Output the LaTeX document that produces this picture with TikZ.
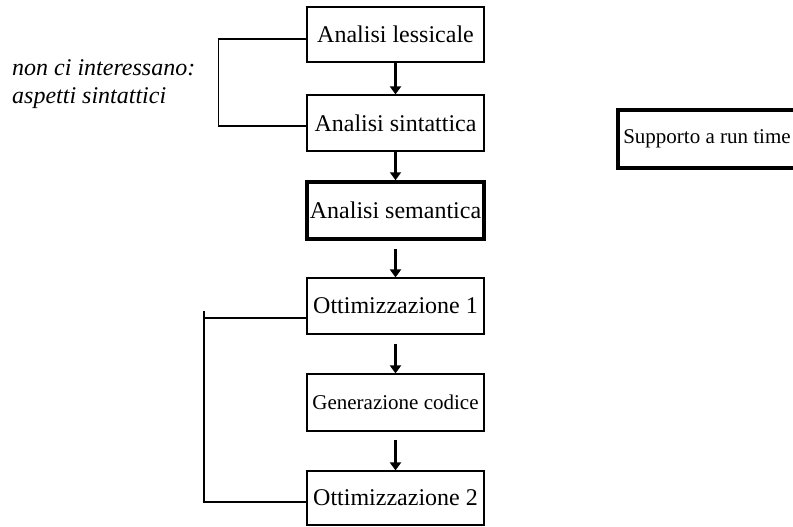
\documentclass[tikz,border=0pt]{standalone}
\usepackage{fontspec}
\setmainfont{Liberation Serif}
\usetikzlibrary{arrows.meta}
\begin{document}
\begin{tikzpicture}[x=1pt,y=-1pt,
  stagebox/.style={draw, line width=1.2pt, minimum width=177pt, inner sep=0pt, font=\fontsize{24}{28}\selectfont},
  thickbox/.style={stagebox, line width=3.5pt},
  smalltext/.style={font=\fontsize{21}{25}\selectfont},
  flow/.style={line width=2.6pt, -{Triangle[width=11pt,length=8pt]}},
  bracket/.style={line width=1.2pt}]
\useasboundingbox (0,0) rectangle (793,527);
\node[stagebox, minimum height=55pt] (b1) at (395.5,34.5) {Analisi lessicale};
\node[stagebox, minimum height=56pt] (b2) at (395.5,123) {Analisi sintattica};
\node[thickbox, minimum height=57pt] (b3) at (395.5,210.5) {Analisi semantica};
\node[stagebox, minimum height=56pt] (b4) at (395.5,306) {Ottimizzazione 1};
\node[stagebox, smalltext, minimum height=57pt] (b5) at (395.5,402.5) {Generazione codice};
\node[stagebox, minimum height=54pt] (b6) at (395.5,498) {Ottimizzazione 2};
\node[thickbox, smalltext, minimum width=178pt, minimum height=58pt] (rt) at (707,139) {Supporto a run time};
\node[anchor=north west, align=left, inner sep=0pt, font=\fontsize{24}{28}\selectfont\itshape] (note) at (12,59) {non ci interessano:\\aspetti sintattici};
\draw[flow] (b1.south) -- (b2.north);
\draw[flow] (b2.south) -- (b3.north);
\draw[flow] ([yshift=-8pt]b3.south) -- (b4.north);
\draw[flow] ([yshift=-9pt]b4.south) -- (b5.north);
\draw[flow] ([yshift=-8pt]b5.south) -- (b6.north);
\draw[bracket] ([yshift=-4.5pt]b1.west) -- ++(-88pt,0) |- ([yshift=-3pt]b2.west);
\coordinate (bt) at (204,311);
\draw[bracket] ([yshift=-12pt]b4.west) -- (204,318);
\draw[bracket] (bt) |- ([yshift=-4pt]b6.west);
\end{tikzpicture}
\end{document}
